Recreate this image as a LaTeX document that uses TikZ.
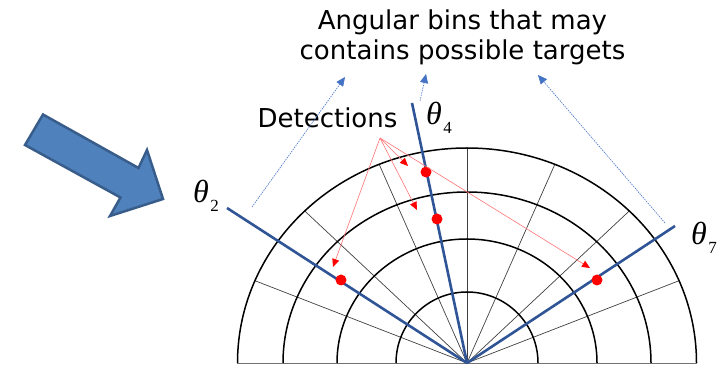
\documentclass[tikz,border=0pt]{standalone}
\usepackage{fontspec}
\setmainfont{DejaVu Sans}
\newfontfamily\thetafont{Liberation Serif}
\usetikzlibrary{arrows.meta}
\definecolor{thetablue}{HTML}{2F5597}
\definecolor{arrowfill}{HTML}{4F81BD}
\definecolor{arrowedge}{HTML}{385D8A}
\definecolor{pointblue}{HTML}{4472C4}
\newcommand{\thetasub}[1]{{\thetafont\fontsize{32}{32}\selectfont\itshape θ\hspace{1.5pt}\raisebox{-9pt}{\fontsize{17}{17}\selectfont\upshape #1}}}
\tikzset{
  ring/.style={line width=1.5pt, black},
  spoke/.style={line width=0.7pt, black!75},
  thetaline/.style={line width=2.6pt, thetablue},
  dot/.style={circle, fill=red, inner sep=0pt, minimum size=11pt},
  detarrow/.style={line width=0.6pt, red!55, -{Triangle[length=8pt,width=7pt,color=red,fill=red]}},
  binarrow/.style={line width=0.6pt, pointblue, dash pattern=on 1.5pt off 1pt, -{Triangle[length=9pt,width=8pt,color=pointblue,fill=pointblue,sep=0pt]}},
  bigtext/.style={font=\fontsize{26}{30}\selectfont, inner sep=0pt},
  thetalabel/.style={inner sep=0pt, anchor=base west}
}
\begin{document}
\begin{tikzpicture}[x=1pt,y=1pt]
\useasboundingbox (0,0) rectangle (722,366);
\coordinate (C) at (467,3);
% bottom line
\draw[line width=1.6pt, black!55] (237,2.5) -- (697,2.5);
% spokes
\foreach \a in {22.5,45,67.5,90,112.5,135,157.5}
  \draw[spoke] (C) -- ++(\a:229.5 and 215);
% rings
\foreach \rx/\ry in {71/71,130/124,184/171,229.5/215}
  \draw[ring] (C) ++(\rx,0) arc[start angle=0,end angle=180,x radius=\rx,y radius=\ry];
% theta lines
\coordinate (T2) at (227,158);
\coordinate (T4) at (412,263);
\coordinate (T7) at (675,140);
\draw[thetaline] (C) -- (T2);
\draw[thetaline] (C) -- (T4);
\draw[thetaline] (C) -- (T7);
% theta labels
\node[thetalabel] (L2) at (193,163) {\thetasub{2}};
\node[thetalabel] (L4) at (426,241) {\thetasub{4}};
\node[thetalabel] (L7) at (691,121) {\thetasub{7}};
% detections
\node[dot] (D1) at (426,194) {};
\node[dot] (D2) at (437,147) {};
\node[dot] (D3) at (341,86) {};
\node[dot] (D4) at (597,86) {};
% texts
\node[bigtext, anchor=base] (det) at (327.5,238) {Detections};
\node[bigtext, anchor=base] (title1) at (462.5,336) {Angular bins that may};
\node[bigtext, anchor=base] (title2) at (462.5,306) {contains possible targets};
% red arrows
\coordinate (O) at (380,228);
\coordinate (E1) at (408,200);
\coordinate (E2) at (417,156);
\coordinate (E3) at (333,99);
\coordinate (E4) at (590,98);
\draw[detarrow] (O) -- (E1);
\draw[detarrow] (O) -- (E2);
\draw[detarrow] (O) -- (E3);
\draw[detarrow] (O) -- (E4);
% blue pointer arrows
\coordinate (S1) at (252,159);
\coordinate (A1) at (345,289);
\coordinate (S2) at (420,265);
\coordinate (A2) at (426,292);
\coordinate (S3) at (665,143);
\coordinate (A3) at (538,291);
\draw[binarrow] (S1) -- (A1);
\draw[binarrow] (S2) -- (A2);
\draw[binarrow] (S3) -- (A3);
% big arrow
\draw[line width=2.5pt, draw=arrowedge, fill=arrowfill, line join=miter]
  (43,251.5) -- (138.5,198) -- (147,216) -- (163,167) -- (110,150) -- (120.5,168.5) -- (25,221) -- cycle;
\end{tikzpicture}
\end{document}
